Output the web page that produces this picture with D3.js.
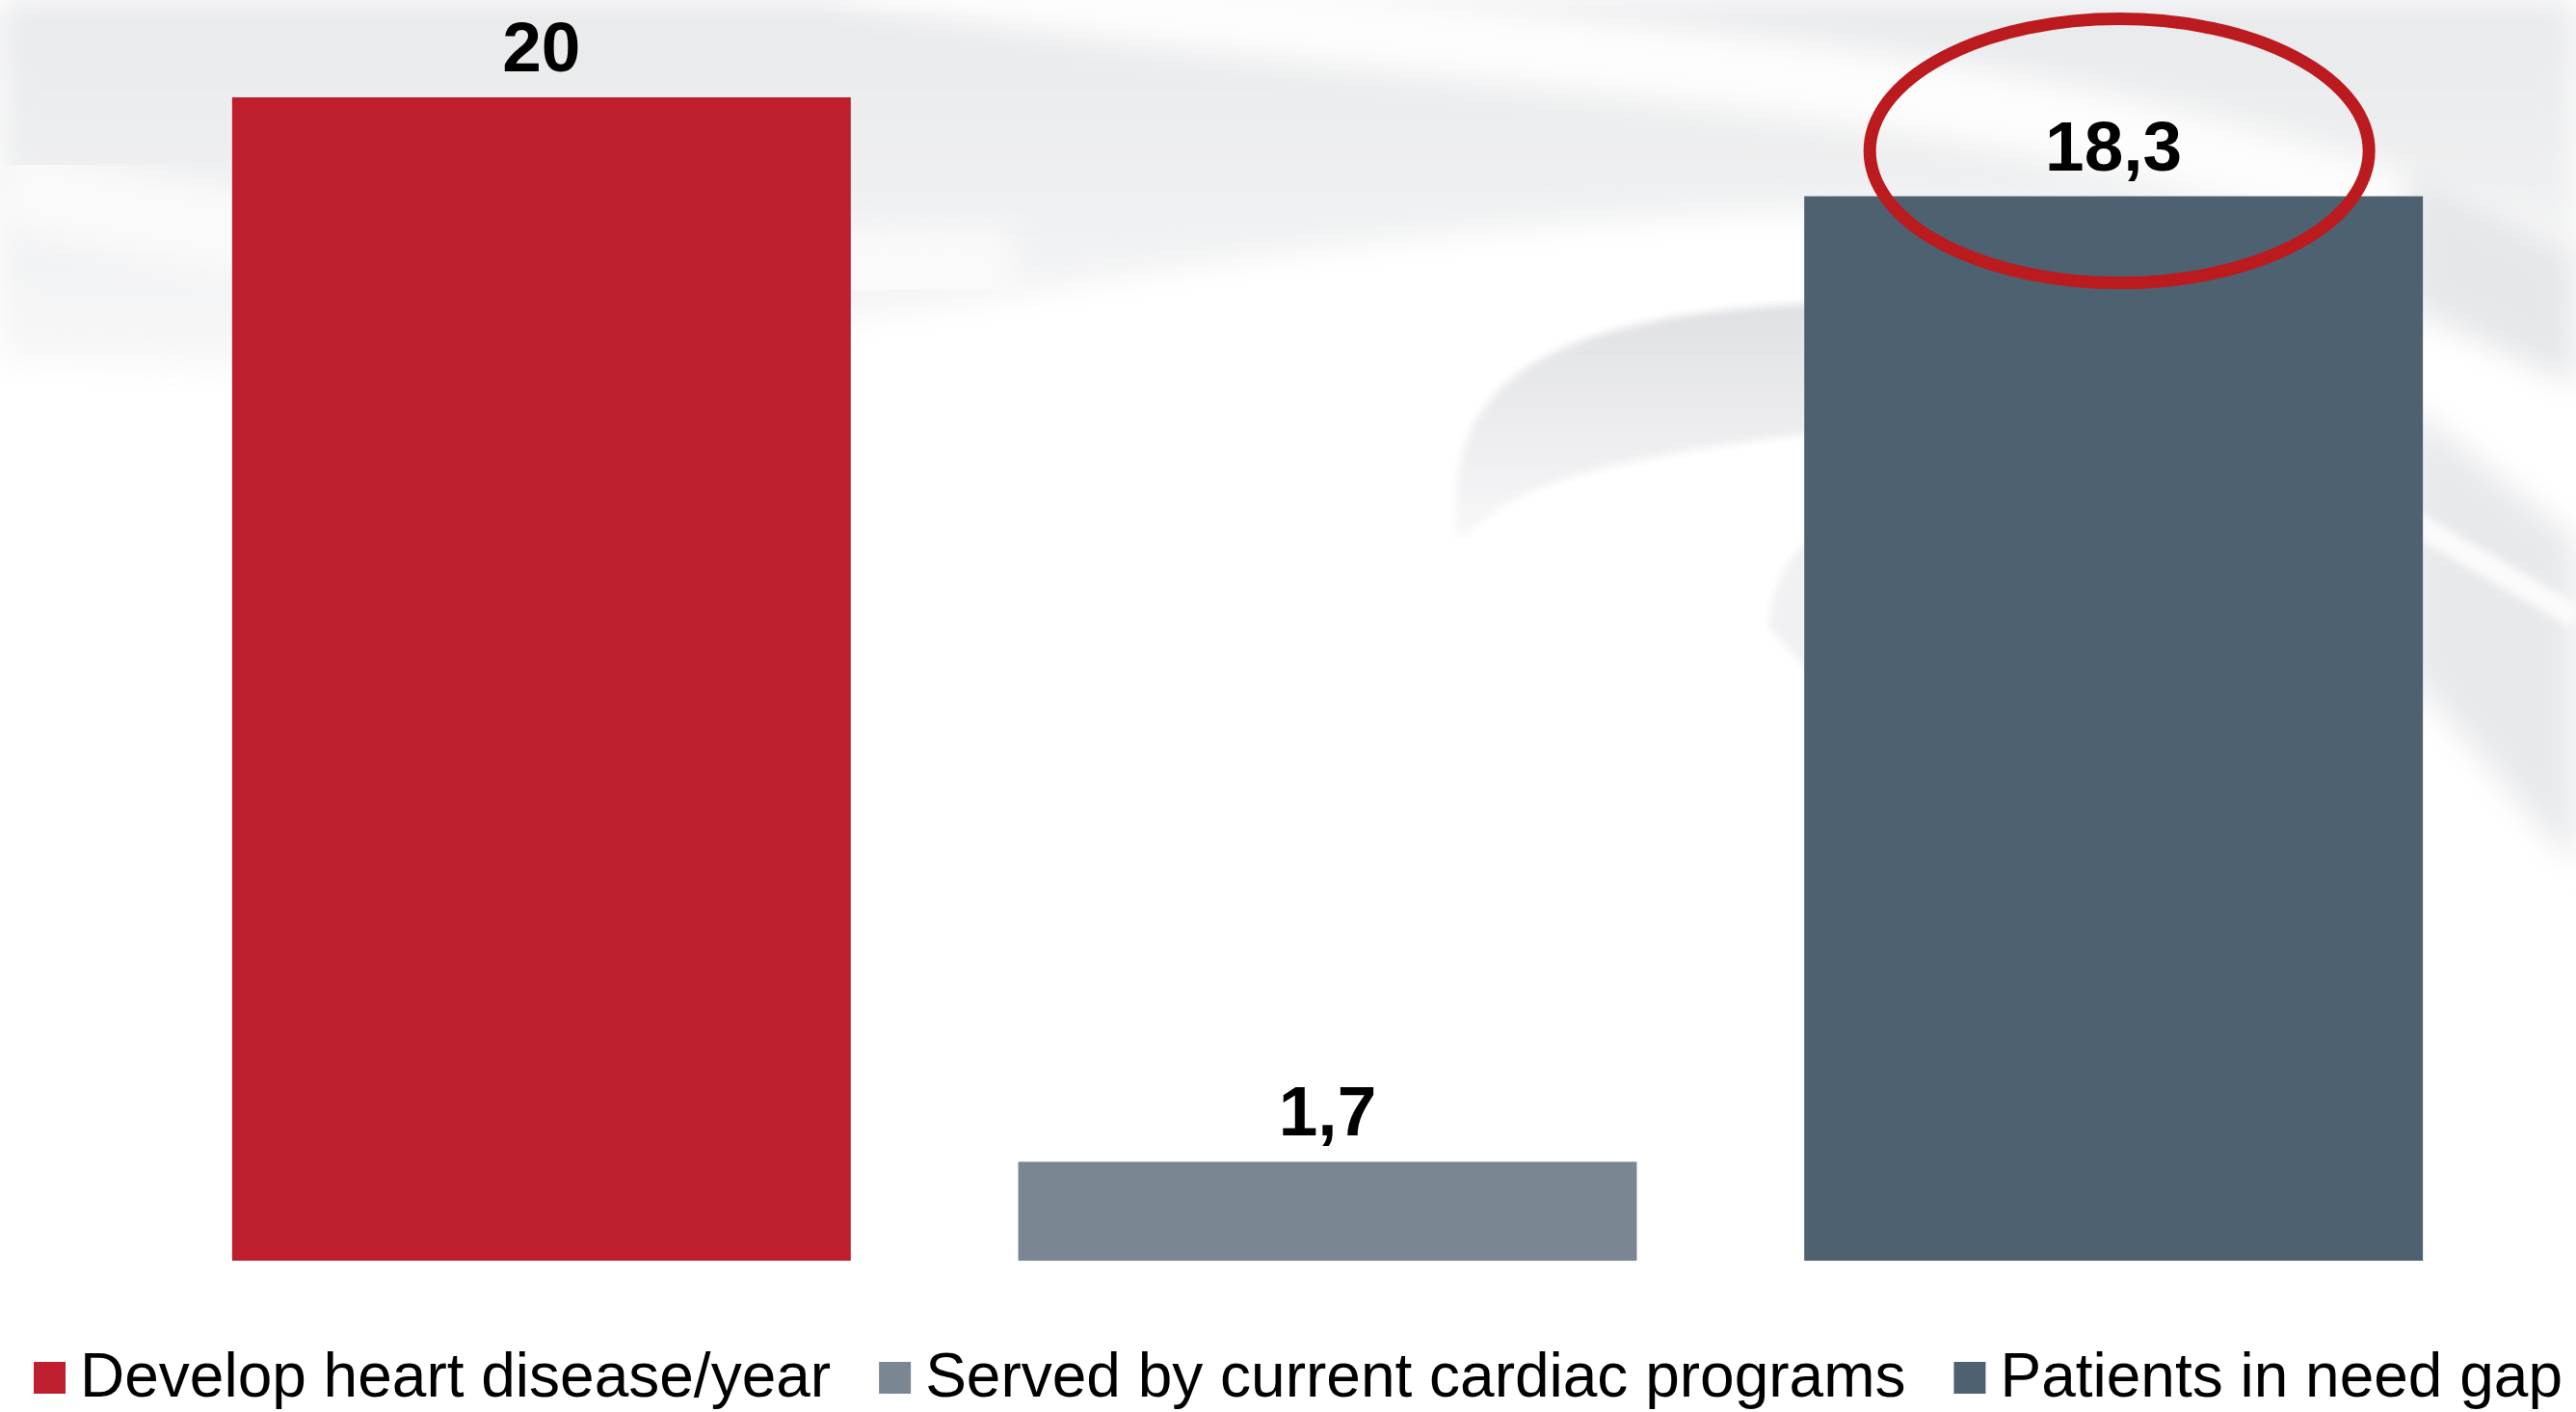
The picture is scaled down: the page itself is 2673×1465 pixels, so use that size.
<!DOCTYPE html>
<html>
<head>
<meta charset="utf-8">
<script src="https://cdn.jsdelivr.net/npm/d3@7"></script>
<style>
  body { margin: 0; background: #fff; }
  svg { display: block; }
  text { font-family: "Liberation Sans", Arial, sans-serif; }
</style>
</head>
<body>
<div id="chart"></div>
<script>
// chart data
var categories = ["Develop heart disease/year", "Served by current cardiac programs", "Patients in need gap"];
var values = [20, 1.7, 18.3];
var valueLabels = ["20", "1,7", "18,3"];
var colors = ["#BE1E2D", "#7A8691", "#4E6170"];
var highlighted = "Patients in need gap";

var svgWidth = 2673;
var svgHeight = 1465;

var svg = d3.select("#chart")
  .append("svg")
  .attr("width", svgWidth)
  .attr("height", svgHeight);

// background swooshes (decoration)
var defs = svg.append("defs");
defs.append("filter").attr("id", "soft")
  .attr("x", "-20%").attr("y", "-20%").attr("width", "140%").attr("height", "140%")
  .append("feGaussianBlur").attr("stdDeviation", 16);
defs.append("filter").attr("id", "softer")
  .attr("x", "-20%").attr("y", "-20%").attr("width", "140%").attr("height", "140%")
  .append("feGaussianBlur").attr("stdDeviation", 4);

var topGrad = defs.append("linearGradient").attr("id", "topGrad")
  .attr("x1", 0).attr("y1", 0).attr("x2", 0).attr("y2", 1);
topGrad.append("stop").attr("offset", "0%").attr("stop-color", "#e8e9eb");
topGrad.append("stop").attr("offset", "60%").attr("stop-color", "#f0f1f2");
topGrad.append("stop").attr("offset", "100%").attr("stop-color", "#f8f8f9");

var crescentGrad = defs.append("linearGradient").attr("id", "crescentGrad")
  .attr("x1", 0).attr("y1", 0).attr("x2", 0).attr("y2", 1);
crescentGrad.append("stop").attr("offset", "0%").attr("stop-color", "#dfe0e3");
crescentGrad.append("stop").attr("offset", "100%").attr("stop-color", "#f8f8f9");

var bg = svg.append("g");
bg.append("path")
  .attr("d", "M0,0 H2673 V300 C2350,180 1700,200 1150,290 C800,350 400,400 0,375 Z")
  .attr("fill", "url(#topGrad)")
  .attr("filter", "url(#soft)");
bg.append("path")
  .attr("d", "M880,-40 C1300,40 1800,50 2200,140 C2450,200 2600,250 2700,310")
  .attr("fill", "none")
  .attr("stroke", "#fdfdfd")
  .attr("stroke-width", 80)
  .attr("filter", "url(#soft)");
bg.append("path")
  .attr("d", "M0,190 C300,270 700,290 1050,280")
  .attr("fill", "none")
  .attr("stroke", "#fafafb")
  .attr("stroke-width", 90)
  .attr("filter", "url(#soft)");
bg.append("path")
  .attr("d", "M1512,560 C1500,420 1560,330 1880,315 L1880,450 C1700,470 1580,500 1540,540 Z")
  .attr("fill", "url(#crescentGrad)")
  .attr("filter", "url(#softer)");
bg.append("path")
  .attr("d", "M1835,650 C1840,600 1860,570 1880,560 L1880,700 Z")
  .attr("fill", "#f1f1f3")
  .attr("filter", "url(#softer)");
bg.append("path")
  .attr("d", "M2500,170 L2673,260 L2673,400 L2500,320 Z")
  .attr("fill", "#e6e7e9")
  .attr("filter", "url(#soft)");
bg.append("path")
  .attr("d", "M2500,420 L2673,560 L2673,900 L2500,700 Z")
  .attr("fill", "#e8e9eb")
  .attr("filter", "url(#soft)");
bg.append("path")
  .attr("d", "M2500,540 L2673,640")
  .attr("stroke", "#fbfbfc")
  .attr("stroke-width", 24)
  .attr("filter", "url(#softer)");

// scales
var xScale = d3.scaleBand()
  .domain(categories)
  .range([154, 2601])
  .paddingInner(0.213)
  .paddingOuter(0.1065);

var yScale = d3.scaleLinear()
  .domain([0, 20])
  .range([1308, 101]);

var chartGroup = svg.append("g");

chartGroup.selectAll("rect.bar")
  .data(categories)
  .enter()
  .append("rect")
  .attr("class", "bar")
  .attr("x", d => xScale(d))
  .attr("y", (d, i) => yScale(values[i]))
  .attr("width", xScale.bandwidth())
  .attr("height", (d, i) => yScale(0) - yScale(values[i]))
  .attr("fill", (d, i) => colors[i]);

chartGroup.selectAll("text.value")
  .data(categories)
  .enter()
  .append("text")
  .attr("class", "value")
  .attr("x", d => xScale(d) + xScale.bandwidth() / 2)
  .attr("y", (d, i) => yScale(values[i]) - 27)
  .attr("text-anchor", "middle")
  .style("font-size", "73px")
  .style("font-weight", "bold")
  .style("fill", "#000")
  .text((d, i) => valueLabels[i]);

// red ring round the gap value
var hi = categories.indexOf(highlighted);
chartGroup.append("ellipse")
  .attr("cx", xScale(highlighted) + xScale.bandwidth() / 2 + 6)
  .attr("cy", yScale(values[hi]) - 47)
  .attr("rx", 259)
  .attr("ry", 137)
  .attr("fill", "none")
  .attr("stroke", "#BB1B1E")
  .attr("stroke-width", 13);

// legend
var legend = svg.append("g").attr("transform", "translate(35, 1413)");
var lx = 0;
categories.forEach(function(c, i) {
  var item = legend.append("g").attr("transform", `translate(${lx}, 0)`);
  item.append("rect")
    .attr("width", 33)
    .attr("height", 33)
    .attr("fill", colors[i]);
  var t = item.append("text")
    .attr("x", 48)
    .attr("y", 36)
    .style("font-size", "64px")
    .style("fill", "#000")
    .text(c);
  lx += 48 + t.node().getComputedTextLength() + 50;
});
</script>
</body>
</html>
